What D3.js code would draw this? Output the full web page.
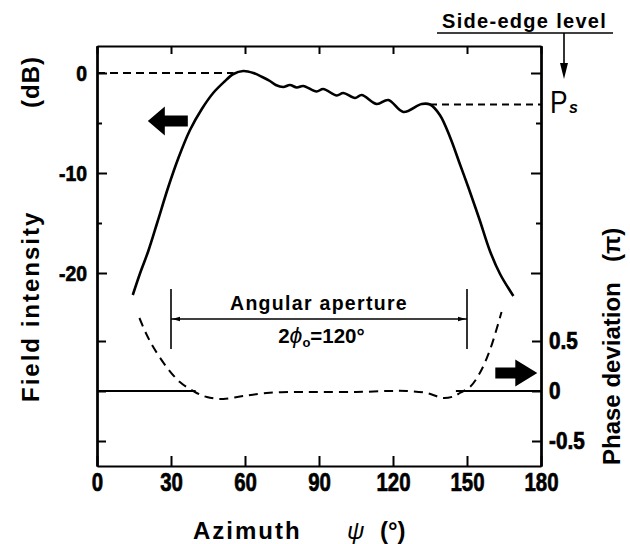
<!DOCTYPE html>
<html><head><meta charset="utf-8">
<script src="https://cdn.jsdelivr.net/npm/d3@7"></script>
<style>
html,body{margin:0;padding:0;background:#fff;}
svg{display:block;}
text{font-family:"Liberation Sans",Arial,Helvetica,sans-serif;fill:#000;}
</style></head><body>
<svg id="chart" width="630" height="544"></svg>
<script>
// Azimuthal pattern: field intensity (dB, left axis) and phase deviation (π, right axis)
const fieldAzimuth = [14.5,17.5,20.8,24.5,28.9,33,37.7,42.5,47.1,51.5,55.3,59.3,63.4,67,70.1,72.5,75.5,78.2,81,83.6,89,91.7,97.2,99.8,104.6,107.3,113.4,118.1,124.2,131.6,135,139,143.1,147.1,150.5,155,159.3,163.4,168.8];
const fieldDb = [-22.2,-20.0,-17.8,-14.9,-11.4,-8.5,-5.7,-3.6,-2.0,-0.9,-0.1,0.2,0.0,-0.4,-0.8,-1.2,-1.4,-1.2,-1.45,-1.3,-1.85,-1.6,-2.25,-2.0,-2.5,-2.2,-3.1,-2.7,-3.9,-3.1,-3.15,-4.2,-6.4,-9.1,-11.4,-14.6,-17.8,-20.1,-22.3];

const phaseAzimuth = [17.2,20,22.8,28.2,33.6,39.7,44.5,51.2,59.3,68.8,80,90,105,118,125.5,133.7,140.4,145,147.1,151.2,155.2,159.3,164];
const phaseDev = [0.73,0.57,0.44,0.24,0.09,-0.01,-0.06,-0.08,-0.05,-0.02,-0.01,-0.01,-0.01,0.0,0.0,-0.02,-0.07,-0.05,-0.02,0.04,0.18,0.41,0.79];

const azimuthTicks = [0,30,60,90,120,150,180];
const dbTicks = [0,-10,-20];
const dbMinorTicks = [-5,-15];
const phaseTicks = [0.5,0,-0.5];

const peakLevel = 0;          // dB reference line
const sideEdgeLevel = -3.15;  // Ps
const peakEnd = 55.3;         // where the 0 dB line meets the curve
const sideEdgeStart = 135;    // where the Ps line leaves the curve
const aperture = [30,150];    // 2φo = 120°
const zeroPhaseSpans = [[0,40],[145.5,180]];

const frame = {left:97, right:541, top:46, bottom:466};
const svg = d3.select("#chart");

const x = d3.scaleLinear().domain([0,180]).range([frame.left, frame.right]);
const yDb = d3.scaleLinear().domain([2.7,-39.3]).range([frame.top, frame.bottom]);
const yPh = d3.scaleLinear().domain([3.45,-0.75]).range([frame.top, frame.bottom]);

const FONT = '"Liberation Sans",Arial,Helvetica,sans-serif';

function styleAxis(g, size, sx, pad, side){
  g.attr("font-family", FONT).attr("font-size", size).attr("font-weight","bold");
  g.select(".domain").attr("stroke-width",2).attr("stroke","#000");
  g.selectAll(".tick line").attr("stroke-width",2).attr("stroke","#000");
  const t = g.selectAll(".tick text").attr("fill","#000")
    .attr("stroke","#000").attr("stroke-width",0.7)
    .attr("transform",`scale(${sx},1)`);
  if (side === "left") t.attr("x", -pad/sx);
  if (side === "right") t.attr("x", pad/sx);
}

// bottom axis with labels
svg.append("g").attr("transform",`translate(0,${frame.bottom})`)
  .call(d3.axisBottom(x).tickValues(azimuthTicks).tickSize(-10).tickSizeOuter(0).tickPadding(7).tickFormat(d=>String(d)))
  .call(g=>styleAxis(g,25.5,0.8,7,"bottom"));
// top axis, ticks only
svg.append("g").attr("transform",`translate(0,${frame.top})`)
  .call(d3.axisTop(x).tickValues(azimuthTicks).tickSize(-8).tickSizeOuter(0).tickFormat(""))
  .call(g=>styleAxis(g,10,1,0,"top"));
// left axis: dB
svg.append("g").attr("transform",`translate(${frame.left},0)`)
  .call(d3.axisLeft(yDb).tickValues(dbTicks).tickSize(-10).tickSizeOuter(0).tickPadding(10).tickFormat(d=>String(d)))
  .call(g=>styleAxis(g,22.5,0.86,10,"left"));
svg.append("g").attr("transform",`translate(${frame.left},0)`)
  .call(d3.axisLeft(yDb).tickValues(dbMinorTicks).tickSize(-5).tickSizeOuter(0).tickFormat(""))
  .call(g=>styleAxis(g,10,1,0,"left"));
svg.append("g").attr("transform",`translate(${frame.left},0)`)
  .call(d3.axisLeft(yPh).tickValues(phaseTicks).tickSize(-9).tickSizeOuter(0).tickFormat(""))
  .call(g=>styleAxis(g,10,1,0,"left"));
// right axis: phase
svg.append("g").attr("transform",`translate(${frame.right},0)`)
  .call(d3.axisRight(yPh).tickValues(phaseTicks).tickSize(-9).tickSizeOuter(0).tickPadding(8).tickFormat(d=>String(d)))
  .call(g=>styleAxis(g,23,0.9,8,"right"));
svg.append("g").attr("transform",`translate(${frame.right},0)`)
  .call(d3.axisRight(yDb).tickValues(dbTicks).tickSize(-10).tickSizeOuter(0).tickFormat(""))
  .call(g=>styleAxis(g,10,1,0,"right"));
svg.append("g").attr("transform",`translate(${frame.right},0)`)
  .call(d3.axisRight(yDb).tickValues(dbMinorTicks).tickSize(-5).tickSizeOuter(0).tickFormat(""))
  .call(g=>styleAxis(g,10,1,0,"right"));

// reference lines
svg.append("line")
  .attr("x1",x(0)).attr("x2",x(peakEnd)).attr("y1",yDb(peakLevel)).attr("y2",yDb(peakLevel))
  .attr("stroke","#000").attr("stroke-width",2).attr("stroke-dasharray","8,5");
svg.append("line")
  .attr("x1",x(sideEdgeStart)).attr("x2",x(180)).attr("y1",yDb(sideEdgeLevel)).attr("y2",yDb(sideEdgeLevel))
  .attr("stroke","#000").attr("stroke-width",2).attr("stroke-dasharray","7,5");

// zero phase line
svg.selectAll(".zero").data(zeroPhaseSpans).join("line")
  .attr("x1",d=>x(d[0])).attr("x2",d=>x(d[1])).attr("y1",yPh(0)).attr("y2",yPh(0))
  .attr("stroke","#000").attr("stroke-width",1.8);

// field intensity curve
const fieldLine = d3.line().x(d=>x(d[0])).y(d=>yDb(d[1])).curve(d3.curveCatmullRom.alpha(0.5));
svg.append("path").datum(d3.zip(fieldAzimuth, fieldDb))
  .attr("d", fieldLine).attr("fill","none").attr("stroke","#000").attr("stroke-width",2.6)
  .attr("stroke-linejoin","round");

// phase deviation curve
const phaseLine = d3.line().x(d=>x(d[0])).y(d=>yPh(d[1])).curve(d3.curveCatmullRom.alpha(0.5));
svg.append("path").datum(d3.zip(phaseAzimuth, phaseDev))
  .attr("d", phaseLine).attr("fill","none").attr("stroke","#000").attr("stroke-width",2)
  .attr("stroke-dasharray","9,6");

// block arrows pointing at the relevant axis
function blockArrow(tx, ty, dir, len, headLen, headHalf, shaftHalf){
  const b = tx - dir*headLen, e = tx - dir*len;
  return [[tx,ty],[b,ty-headHalf],[b,ty-shaftHalf],[e,ty-shaftHalf],[e,ty+shaftHalf],[b,ty+shaftHalf],[b,ty+headHalf]];
}
svg.append("polygon").attr("points", blockArrow(x(20.6), yDb(-4.8), -1, 40, 17, 14.5, 5.5).join(" ")).attr("fill","#000");
svg.append("polygon").attr("points", blockArrow(x(178.5), yPh(0.18), 1, 42, 22, 13.5, 5.5).join(" ")).attr("fill","#000");

// angular aperture
const apTop = yPh(1.02), apBot = yPh(0.42), apMid = yPh(0.72);
svg.selectAll(".ap").data(aperture).join("line")
  .attr("x1",d=>x(d)).attr("x2",d=>x(d)).attr("y1",apTop).attr("y2",apBot)
  .attr("stroke","#000").attr("stroke-width",1.6);
svg.append("line").attr("x1",x(aperture[0])).attr("x2",x(aperture[1])).attr("y1",apMid).attr("y2",apMid)
  .attr("stroke","#000").attr("stroke-width",1.4);
svg.append("polygon").attr("points",[[x(aperture[0])+1,apMid],[x(aperture[0])+9,apMid-2.2],[x(aperture[0])+9,apMid+2.2]].join(" "));
svg.append("polygon").attr("points",[[x(aperture[1])-1,apMid],[x(aperture[1])-9,apMid-2.2],[x(aperture[1])-9,apMid+2.2]].join(" "));
svg.append("text").attr("x",x(90)).attr("y",310).attr("text-anchor","middle")
  .attr("font-size",19.5).attr("font-weight","bold").attr("letter-spacing",1.3).text("Angular aperture");
const apText = svg.append("text").attr("x",x(91)).attr("y",343).attr("text-anchor","middle")
  .attr("font-size",20.5).attr("font-weight","bold");
apText.append("tspan").text("2");
apText.append("tspan").attr("font-style","italic").attr("font-weight","normal").attr("font-size",23).text("ϕ");
apText.append("tspan").attr("font-size",13).attr("dy",4).text("o");
apText.append("tspan").attr("dy",-4).text("=120°");

// side-edge level marker
svg.append("text").attr("x",442).attr("y",28).attr("font-size",20).attr("font-weight","bold")
  .attr("letter-spacing",1.3).text("Side-edge level");
svg.append("line").attr("x1",437).attr("x2",613).attr("y1",33).attr("y2",33).attr("stroke","#000").attr("stroke-width",1.6);
svg.append("line").attr("x1",564).attr("x2",564).attr("y1",33).attr("y2",66).attr("stroke","#000").attr("stroke-width",1.6);
svg.append("polygon").attr("points",[[564,79],[560,63],[568,63]].join(" "));
svg.append("text").attr("transform",`translate(550,${yDb(sideEdgeLevel)+8}) scale(0.85,1)`)
  .attr("font-size",31).text("P");
svg.append("text").attr("x",569).attr("y",yDb(sideEdgeLevel)+8).attr("font-size",16)
  .attr("font-weight","bold").attr("font-style","italic").text("s");

// axis titles
svg.append("text").attr("transform","translate(39,402) rotate(-90)").attr("font-size",24)
  .attr("font-weight","bold").attr("letter-spacing",2).text("Field intensity");
svg.append("text").attr("transform","translate(39,108) rotate(-90)").attr("font-size",24)
  .attr("font-weight","bold").attr("letter-spacing",1).text("(dB)");
svg.append("text").attr("transform","translate(620,465) rotate(-90)").attr("font-size",24)
  .attr("font-weight","bold").text("Phase deviation");
svg.append("text").attr("transform","translate(620,262) rotate(-90)").attr("font-size",24)
  .attr("font-weight","bold").text("(π)");

svg.append("text").attr("x",193).attr("y",539).attr("font-size",24).attr("font-weight","bold")
  .attr("letter-spacing",2).text("Azimuth");
svg.append("text").attr("x",347).attr("y",539).attr("font-size",24).attr("font-style","italic").text("ψ");
svg.append("text").attr("x",380).attr("y",539).attr("font-size",24).attr("font-weight","bold").text("(°)");
</script>
</body></html>
